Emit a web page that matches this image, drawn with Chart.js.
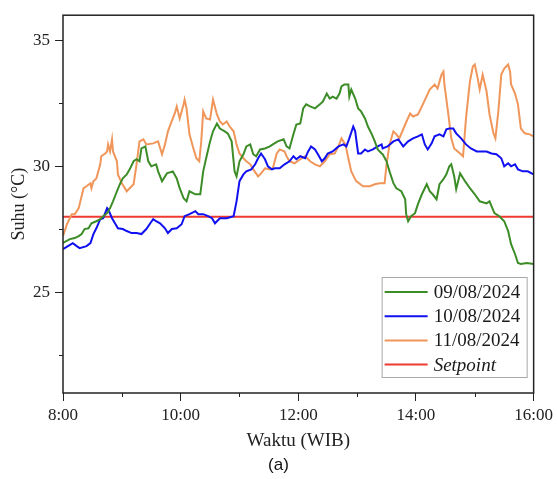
<!DOCTYPE html>
<html>
<head>
<meta charset="utf-8">
<script src="https://cdn.jsdelivr.net/npm/chart.js@4.4.1/dist/chart.umd.min.js"></script>
<style>
  html, body { margin: 0; padding: 0; background: #fff; }
  #wrap { position: relative; width: 557px; height: 479px; }
  #cap { position: absolute; left: 0; width: 557px; top: 455px; text-align: center;
         font: 17px "Liberation Sans", Arial, sans-serif; color: #111; }
</style>
</head>
<body>
<div id="wrap">
  <canvas id="c" width="557" height="479"></canvas>
  <div id="cap">(a)</div>
</div>
<script>
// time in minutes after 8:00, temperature in °C
const minutesGreen = [0,7,12,16,19,22,26,29,34,38,41,45,48,51,55,58,61,65,68,72,75,78,80,84,87,90,95,97,101,106,
  112,116,119,123,126,129,135,140,143,146,150,153,157,160,165,168,172,175,177,180,184,187,191,194,197,201,206,211,214,219,
  225,228,231,235,238,242,245,248,252,257,262,265,269,272,275,279,282,284,287,291,292,294,298,301,304,308,311,315,318,321,
  325,326,330,333,337,340,345,349,350,352,355,359,362,366,371,374,377,381,384,388,391,394,396,399,401,405,410,415,420,425,
  432,435,437,440,445,450,454,457,461,464,467,473,480];
const tempGreen = [26.96,27.11,27.15,27.23,27.31,27.51,27.54,27.74,27.82,27.90,28.02,28.14,28.34,28.61,29.01,29.29,29.52,29.68,29.88,30.20,
  30.28,30.20,30.71,30.79,30.20,30.00,30.08,29.80,29.41,29.72,29.80,29.52,29.13,28.73,28.61,29.01,28.89,28.89,29.80,30.32,
  30.99,31.39,31.70,31.50,31.39,31.31,30.99,29.80,29.60,30.20,30.48,30.79,30.87,30.48,30.40,30.67,30.71,30.79,30.87,30.99,
  31.07,30.79,30.71,31.27,31.66,31.70,32.30,32.46,32.38,32.30,32.46,32.57,32.89,32.69,32.77,32.69,32.89,33.17,33.25,33.25,
  32.77,33.05,32.69,32.30,32.18,31.90,31.58,31.27,30.99,30.67,30.51,30.48,30.20,29.80,29.33,29.13,29.01,28.69,28.10,27.82,
  28.02,28.14,28.50,28.89,29.29,29.01,28.89,28.69,29.29,29.49,29.68,30.00,30.08,29.60,29.09,29.72,29.41,29.13,28.89,28.61,
  28.53,28.61,28.42,28.14,28.02,27.82,27.43,26.91,26.52,26.16,26.12,26.16,26.12];

const minutesBlue = [0,5,10,14,17,24,28,31,34,38,41,45,46,50,53,56,61,65,70,75,80,85,89,92,95,99,104,107,111,116,
  121,124,129,135,138,143,148,152,155,160,167,174,177,180,184,187,192,196,199,202,206,209,213,216,221,226,231,235,238,242,
  247,250,253,257,260,264,267,270,275,281,286,289,292,296,298,301,304,308,311,316,321,325,326,331,337,342,347,352,357,362,
  366,369,372,376,379,384,388,391,394,398,401,406,411,416,422,432,437,442,447,450,454,457,461,464,469,474,480];
const tempBlue = [26.71,26.83,26.95,26.83,26.75,26.83,26.95,27.31,27.54,27.90,27.94,28.34,28.30,27.94,27.74,27.54,27.51,27.43,27.35,27.35,
  27.31,27.51,27.74,27.90,27.82,27.74,27.54,27.35,27.51,27.54,27.70,28.02,28.10,28.22,28.10,28.10,28.02,27.94,27.74,27.94,
  27.94,28.02,28.61,29.41,29.68,29.80,29.88,30.08,30.32,30.51,30.28,30.00,29.88,29.92,29.92,30.08,30.20,30.40,30.28,30.40,
  30.32,30.59,30.79,30.67,30.48,30.20,30.32,30.51,30.59,30.79,30.87,30.79,31.11,31.58,31.39,30.51,30.51,30.67,30.59,30.67,
  30.79,30.87,30.71,30.79,30.99,31.07,30.79,30.99,31.11,31.19,31.27,30.87,30.67,30.91,31.19,31.27,31.19,31.47,31.50,31.50,
  31.31,31.11,30.87,30.71,30.59,30.59,30.51,30.48,30.32,30.00,30.12,30.00,30.08,29.88,29.80,29.80,29.68];

const minutesOrange = [0,4,9,12,16,21,24,28,29,31,34,38,39,43,45,46,48,50,51,55,56,60,65,68,72,75,78,82,85,92,
  97,101,104,107,112,114,116,119,123,124,126,129,133,136,139,141,143,146,150,153,157,160,163,167,170,174,177,180,184,187,
  191,194,199,202,206,211,214,218,221,226,228,231,236,242,247,252,257,262,267,272,277,281,284,288,291,294,299,306,313,318,
  323,328,330,333,337,340,343,349,354,357,362,367,374,379,382,386,388,389,393,396,399,405,408,411,415,418,420,423,425,428,
  432,435,439,441,444,447,450,454,456,457,461,464,467,471,476,480];
const tempOrange = [27.23,27.70,28.10,28.10,28.34,29.13,29.21,29.33,29.13,29.41,29.52,30.08,30.40,30.51,30.59,30.87,30.59,31.07,30.59,30.20,
  29.68,29.33,29.01,29.13,29.29,30.08,30.99,31.07,30.87,30.91,30.99,30.48,30.87,31.39,31.90,32.10,32.38,31.90,32.46,32.65,
  32.30,31.27,30.71,30.32,30.20,30.99,32.18,31.90,31.86,32.65,32.06,31.78,31.66,31.78,31.58,31.39,30.87,30.51,30.32,30.20,
  30.08,29.88,29.60,29.72,29.92,29.88,29.92,30.51,30.67,30.59,30.40,30.20,30.12,30.28,30.40,30.20,30.08,30.00,30.20,30.48,
  30.51,30.79,31.11,30.87,30.32,29.80,29.41,29.21,29.21,29.29,29.33,29.33,30.08,30.87,31.39,31.27,31.11,31.66,32.10,31.98,
  32.06,32.46,33.05,33.25,33.09,33.64,33.76,33.25,32.06,31.11,30.71,30.51,30.40,31.90,33.37,33.96,34.04,33.48,33.05,33.64,
  32.97,32.06,31.31,31.11,32.18,33.64,33.88,34.04,33.76,33.25,32.89,32.46,31.50,31.31,31.27,31.19];

const minutesSetpoint = [0, 480];
const tempSetpoint = [28, 28];

const seriesLabels = ['09/08/2024', '10/08/2024', '11/08/2024', 'Setpoint'];
const seriesColors = ['#3c8c28', '#1010f0', '#f0965a', '#ee3a30'];
const yMajorTicks = [25, 30, 35];
const yMinorTicks = [22.5, 27.5, 32.5];
const xMinorTicks = [60, 180, 300, 420];

const toPoints = (xs, ys) => xs.map((x, i) => ({ x, y: ys[i] }));
const SERIF = '"Liberation Serif", "Times New Roman", serif';

// box frame, minor ticks and the boxed legend
const framePlugin = {
  id: 'frame',
  afterDraw(chart) {
    const { ctx, chartArea: a, scales } = chart;
    ctx.save();
    ctx.strokeStyle = '#222';
    ctx.lineWidth = 1.5;
    ctx.strokeRect(a.left, a.top, a.right - a.left, a.bottom - a.top);
    ctx.lineWidth = 1;
    yMinorTicks.forEach(v => {
      const y = Math.round(scales.y.getPixelForValue(v)) + 0.5;
      ctx.beginPath(); ctx.moveTo(a.left - 4, y); ctx.lineTo(a.left, y); ctx.stroke();
    });
    xMinorTicks.forEach(v => {
      const x = Math.round(scales.x.getPixelForValue(v)) + 0.5;
      ctx.beginPath(); ctx.moveTo(x, a.bottom); ctx.lineTo(x, a.bottom + 4); ctx.stroke();
    });

    // legend
    const w = 145, h = 100;
    const left = a.right - 7 - w, top = a.bottom - 16 - h;
    ctx.fillStyle = '#fff';
    ctx.fillRect(left, top, w, h);
    ctx.strokeStyle = '#a8a8a8';
    ctx.lineWidth = 1;
    ctx.strokeRect(left + 0.5, top + 0.5, w, h);
    chart.data.datasets.forEach((ds, i) => {
      const y = top + 15 + i * 24.2;
      ctx.strokeStyle = ds.borderColor;
      ctx.lineWidth = 2;
      ctx.beginPath(); ctx.moveTo(left + 3, y); ctx.lineTo(left + 46, y); ctx.stroke();
      ctx.fillStyle = '#1a1a1a';
      ctx.font = (ds.label === 'Setpoint' ? 'italic ' : '') + '19px ' + SERIF;
      ctx.textBaseline = 'middle';
      ctx.fillText(ds.label, left + 52, y + 1);
    });
    ctx.restore();
  }
};

const tickFont = { family: SERIF, size: 17 };

new Chart(document.getElementById('c'), {
  type: 'line',
  data: {
    datasets: [
      { label: seriesLabels[0], data: toPoints(minutesGreen, tempGreen), borderColor: seriesColors[0] },
      { label: seriesLabels[1], data: toPoints(minutesBlue, tempBlue), borderColor: seriesColors[1] },
      { label: seriesLabels[2], data: toPoints(minutesOrange, tempOrange), borderColor: seriesColors[2] },
      { label: seriesLabels[3], data: toPoints(minutesSetpoint, tempSetpoint), borderColor: seriesColors[3] },
    ].map(ds => ({ ...ds, borderWidth: 2, pointRadius: 0, tension: 0, fill: false })),
  },
  options: {
    responsive: false,
    animation: false,
    layout: { padding: { left: 0, top: 14, right: 23, bottom: 0 } },
    plugins: { legend: { display: false }, tooltip: { enabled: false } },
    scales: {
      x: {
        type: 'linear', min: 0, max: 480,
        afterFit(s) { s.height = 86; },
        grid: { drawOnChartArea: false, tickLength: 8, tickColor: '#222', tickWidth: 1 },
        border: { display: false },
        ticks: {
          stepSize: 120, color: '#222', font: tickFont, padding: 4, maxRotation: 0,
          callback: v => `${8 + v / 60}:00`,
        },
        title: { display: true, text: 'Waktu (WIB)', color: '#222',
                 font: { family: SERIF, size: 19 }, padding: { top: 0, bottom: 27 } },
      },
      y: {
        min: 21, max: 36,
        afterFit(s) { s.width = 63; },
        afterBuildTicks(s) { s.ticks = yMajorTicks.map(value => ({ value })); },
        grid: { drawOnChartArea: false, tickLength: 8, tickColor: '#222', tickWidth: 1 },
        border: { display: false },
        ticks: { color: '#222', font: tickFont, padding: 5 },
        title: { display: true, text: 'Suhu (°C)', color: '#222',
                 font: { family: SERIF, size: 18 }, padding: { top: 8, bottom: 0 } },
      },
    },
  },
  plugins: [framePlugin],
});
</script>
</body>
</html>
